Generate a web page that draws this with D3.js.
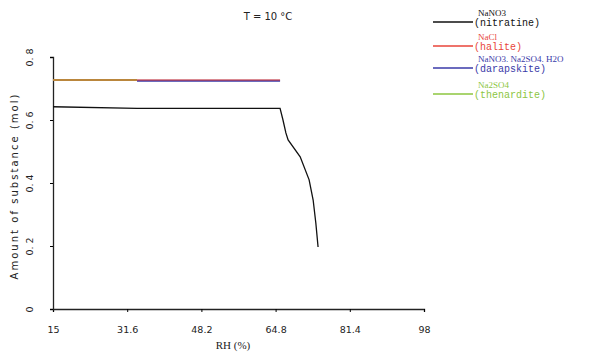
<!DOCTYPE html>
<html><head><meta charset="utf-8">
<script src="https://cdn.jsdelivr.net/npm/d3@7"></script>
<style>body{margin:0;background:#fff}svg{display:block}</style>
</head><body>
<svg id="c" width="600" height="354"></svg>
<script>
const xTicks = [15, 31.6, 48.2, 64.8, 81.4, 98];
const xTickLabels = ["15", "31.6", "48.2", "64.8", "81.4", "98"];
const yTicks = [0, 0.2, 0.4, 0.6, 0.8];
const yTickLabels = ["0", "0. 2", "0. 4", "0. 6", "0. 8"];

const nitratineRH  = [15, 33.8, 65.8, 66.45, 67.1, 67.6, 70.3, 72.3, 73.2, 73.8, 74.3];
const nitratineVal = [0.642, 0.637, 0.637, 0.600, 0.559, 0.537, 0.483, 0.410, 0.346, 0.273, 0.197];
const thenarditeRH  = [15, 33.8];
const thenarditeVal = [0.727, 0.727];
const haliteRH  = [15, 65.8];
const haliteVal = [0.727, 0.727];
const darapskiteRH  = [33.8, 65.8];
const darapskiteVal = [0.725, 0.725];

const legendNames = ["NaNO3", "NaCl", "NaNO3. Na2SO4. H2O", "Na2SO4"];
const legendMinerals = ["(nitratine)", "(halite)", "(darapskite)", "(thenardite)"];
const colors = ["#111111", "#e8453a", "#3a3aa8", "#8cc63f"];

const svg = d3.select("#c");
const x = d3.scaleLinear().domain([15, 98]).range([53, 424]);
const y = d3.scaleLinear().domain([0, 0.8]).range([309, 57]);

// axes
const xAxis = d3.axisBottom(x).tickValues(xTicks).tickSize(3).tickFormat((d,i)=>xTickLabels[i]);
const gx = svg.append("g").attr("transform","translate(0,309)").call(xAxis);
gx.select(".domain").attr("stroke","#222").attr("stroke-width",1.3);
gx.selectAll("text").attr("font-family","DejaVu Sans").attr("font-size",9.5).attr("dy","1.9em").attr("fill","#222");

const yAxis = d3.axisLeft(y).tickValues(yTicks).tickSize(3).tickFormat((d,i)=>yTickLabels[i]);
const gy = svg.append("g").attr("transform","translate(53,0)").call(yAxis);
gy.select(".domain").attr("stroke","#222").attr("stroke-width",1.3);
gy.selectAll("text").attr("font-family","DejaVu Sans").attr("font-size",9.5).attr("fill","#222")
  .attr("transform", "translate(-23,0) rotate(-90)")
  .attr("x",0).attr("y",0).attr("dy","0.35em").attr("text-anchor","middle");

// axis titles
svg.append("text").attr("x",233).attr("y",349).attr("text-anchor","middle")
  .attr("font-family","Liberation Serif").attr("font-size",11).attr("fill","#222").text("RH (%)");
svg.append("text").attr("transform","translate(18,187) rotate(-90)").attr("text-anchor","middle")
  .attr("font-family","DejaVu Sans").attr("font-size",10).attr("fill","#222")
  .attr("textLength",185).attr("lengthAdjust","spacing").text("Amount of substance (mol)");

// title
svg.append("text").attr("x",268).attr("y",20).attr("text-anchor","middle")
  .attr("font-family","DejaVu Sans").attr("font-size",10).attr("fill","#222").text("T = 10 °C");

// series
const line = d3.line().x(d=>x(d[0])).y(d=>y(d[1]));
const zip = (a,b)=>a.map((v,i)=>[v,b[i]]);
svg.append("path").datum(zip(thenarditeRH, thenarditeVal)).attr("d",line)
  .attr("fill","none").attr("stroke",colors[3]).attr("stroke-width",2);
svg.append("path").datum(zip(darapskiteRH, darapskiteVal)).attr("d",line)
  .attr("fill","none").attr("stroke",colors[2]).attr("stroke-width",2);
svg.append("path").datum(zip(haliteRH, haliteVal)).attr("d",line)
  .attr("fill","none").attr("stroke",colors[1]).attr("stroke-width",2).attr("stroke-opacity",0.5);
svg.append("path").datum(zip(nitratineRH, nitratineVal)).attr("d",line)
  .attr("fill","none").attr("stroke",colors[0]).attr("stroke-width",1.3);

// legend
const leg = svg.append("g");
const legY = [22, 46, 68, 94];
legendNames.forEach((n,i)=>{
  leg.append("line").attr("x1",433).attr("x2",473).attr("y1",legY[i]).attr("y2",legY[i])
    .attr("stroke",colors[i]).attr("stroke-width",1.3);
  leg.append("text").attr("x",478).attr("y",legY[i]-6).attr("font-family","Liberation Serif")
    .attr("font-size",9).attr("fill",colors[i]).text(n);
  leg.append("text").attr("x",474).attr("y",legY[i]+4).attr("font-family","Liberation Mono")
    .attr("font-size",10).attr("fill",colors[i]).text(legendMinerals[i]);
});
</script>
</body></html>
